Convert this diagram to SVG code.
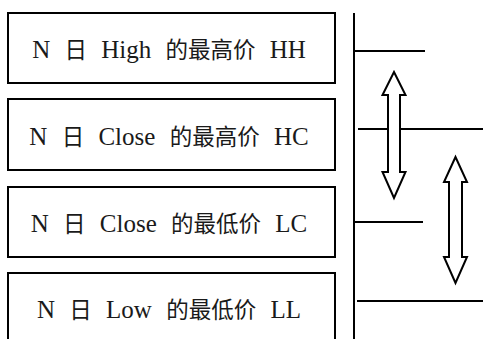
<svg xmlns="http://www.w3.org/2000/svg" width="483" height="339" viewBox="0 0 483 339">
<style>
.box{fill:#fff;stroke:#000;stroke-width:2}
.lbl{font-family:"Liberation Serif","Noto Sans CJK SC",serif;font-size:25px;fill:#1a1a1a;text-anchor:middle;word-spacing:8px}
.cjk{font-family:"Noto Sans CJK SC",sans-serif;font-size:22.5px}
.ln{stroke:#000;stroke-width:2;fill:none}
.arr{fill:#fff;stroke:#000;stroke-width:2;stroke-linejoin:miter}
</style>
<rect width="483" height="339" fill="#fff"/>
<g id="node-hh">
<rect class="box" x="8" y="13" width="327" height="70"/>
<text class="lbl" x="169" y="58">N <tspan class="cjk">日</tspan> High <tspan class="cjk">的最高价</tspan> HH</text>
</g>
<g id="node-hc">
<rect class="box" x="8" y="99" width="327" height="71"/>
<text class="lbl" x="169" y="145">N <tspan class="cjk">日</tspan> Close <tspan class="cjk">的最高价</tspan> HC</text>
</g>
<g id="node-lc">
<rect class="box" x="8" y="187" width="327" height="70"/>
<text class="lbl" x="169" y="232">N <tspan class="cjk">日</tspan> Close <tspan class="cjk">的最低价</tspan> LC</text>
</g>
<g id="node-ll">
<rect class="box" x="8" y="273" width="327" height="80"/>
<text class="lbl" x="169" y="318">N <tspan class="cjk">日</tspan> Low <tspan class="cjk">的最低价</tspan> LL</text>
</g>
<g id="connectors">
<line class="ln" x1="354" y1="13" x2="354" y2="339"/>
<line class="ln" x1="354" y1="51" x2="425" y2="51"/>
<line class="ln" x1="358" y1="129" x2="483" y2="129"/>
<line class="ln" x1="354" y1="222" x2="423" y2="222"/>
<line class="ln" x1="357" y1="301" x2="483" y2="301"/>
<path class="arr" d="M394,72 L405.5,95 L400,95 L400,172 L405.5,172 L394,198 L382.5,172 L388,172 L388,95 L382.5,95 Z"/>
<path class="arr" d="M455.5,157 L467,182 L462,182 L462,257 L467,257 L455.5,283 L444,257 L449,257 L449,182 L444,182 Z"/>
</g>
</svg>
